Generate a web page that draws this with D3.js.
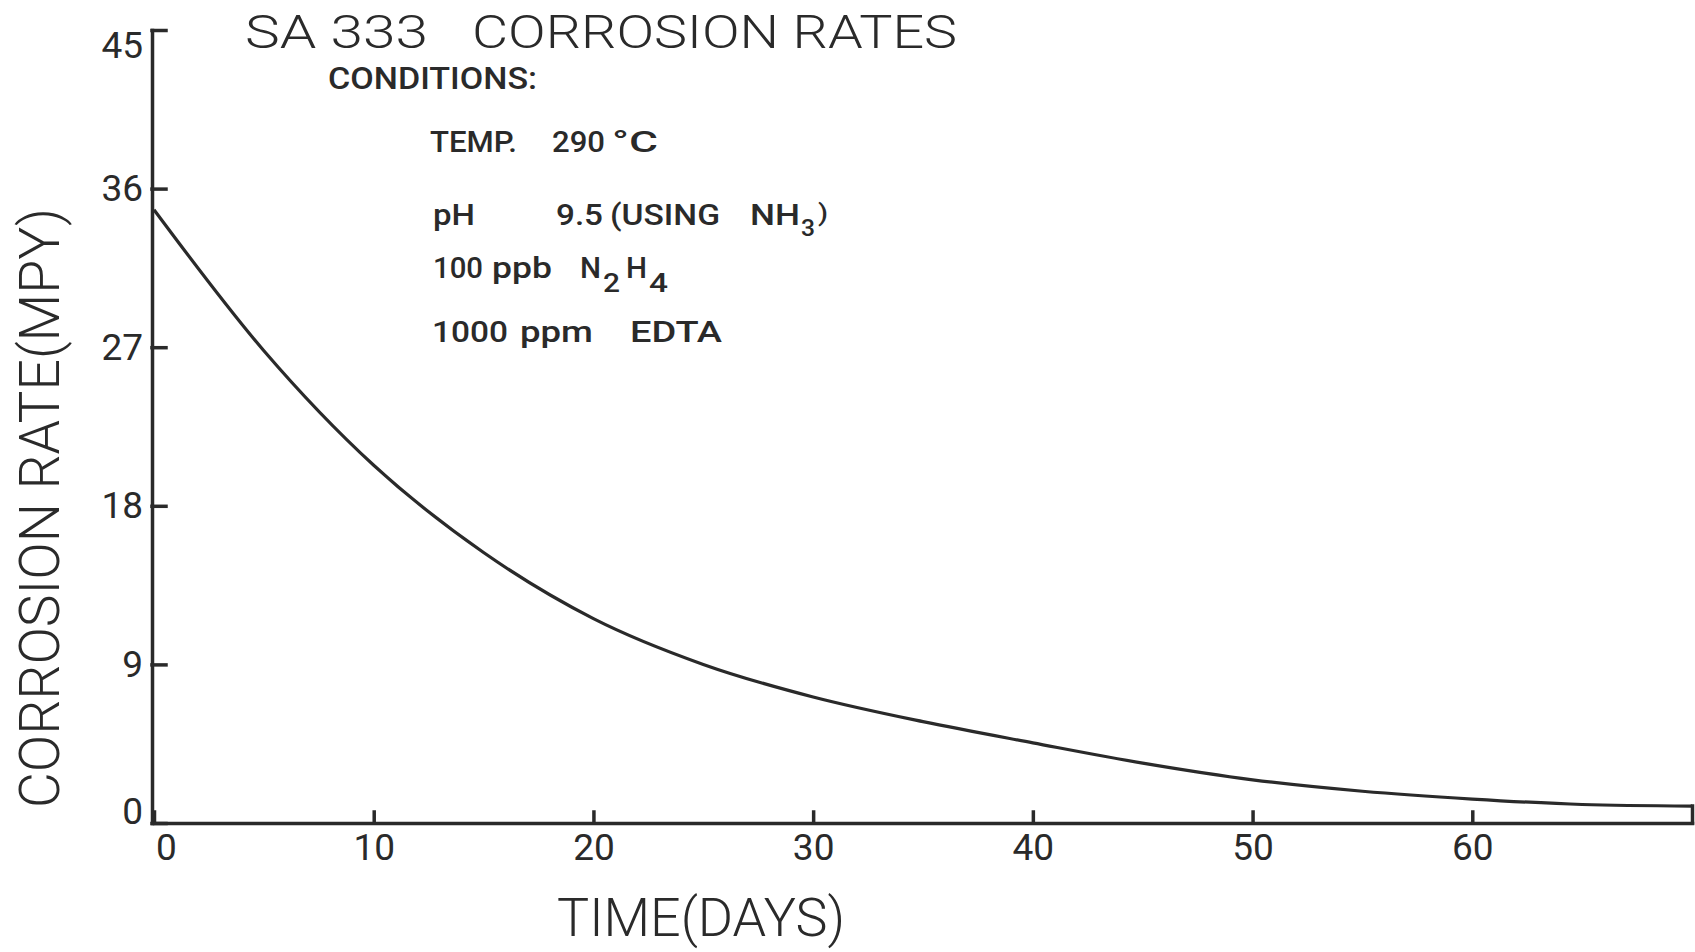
<!DOCTYPE html>
<html>
<head>
<meta charset="utf-8">
<script src="https://cdn.jsdelivr.net/npm/d3@7"></script>
<style>
  body { margin: 0; background: #fff; }
  svg { display: block; }
  .axis path, .axis line { stroke: #2a2a2a; stroke-width: 3.5; stroke-linecap: square; }
  .axis text { fill: #2a2a2a; font-family: Roboto, "DejaVu Sans", sans-serif; font-size: 37px; }
</style>
</head>
<body>
<svg id="chart" width="1695" height="952"></svg>
<script>
// curve (days vs corrosion rate, MPY)
const days  = [0, 5, 10, 15, 20, 25, 30, 35, 40, 45, 50, 55, 60, 65, 70];
const rates = [34.8, 26.8, 20.3, 15.35, 11.6, 9.0, 7.15, 5.75, 4.55, 3.4, 2.45, 1.8, 1.36, 1.05, 0.96];

const xTicks = [0, 10, 20, 30, 40, 50, 60, 70];
const xTickLabels = ['0', '10', '20', '30', '40', '50', '60', ''];
const yTicks = [0, 9, 18, 27, 36, 45];

const titleParts = ['SA 333', 'CORROSION RATES'];
const conditionsHead = 'CONDITIONS:';
const xTitle = 'TIME(DAYS)';
const yTitle = 'CORROSION RATE(MPY)';

const ink = '#2a2a2a';
const svg = d3.select('#chart');

const x = d3.scaleLinear().domain([0, 70]).range([154, 1692]);
const y = d3.scaleLinear().domain([0, 45]).range([823, 30]);

// x axis, ticks pointing up into the plot
const xAxis = svg.append('g')
    .attr('class', 'axis')
    .attr('transform', `translate(0,${y(0)})`)
    .call(d3.axisBottom(x)
        .tickValues(xTicks)
        .tickFormat((d, i) => xTickLabels[i])
        .tickSizeInner(-11)
        .tickSizeOuter(0)
        .tickPadding(11));
xAxis.selectAll('.tick line').attr('y2', d => d === 70 ? -17 : -11);
xAxis.selectAll('.tick text').attr('dx', d => d === 0 ? 12 : 0);

// y axis, ticks pointing right
const yAxis = svg.append('g')
    .attr('class', 'axis')
    .attr('transform', `translate(${x(0) - 2},0)`)
    .call(d3.axisLeft(y)
        .tickValues(yTicks)
        .tickSizeInner(-14)
        .tickSizeOuter(0)
        .tickPadding(9));
yAxis.selectAll('.tick text').attr('dy', d => d === 45 ? '0.75em' : (d === 0 ? '0.0em' : '0.32em'));

// the curve
const line = d3.line()
    .x((d, i) => x(days[i]))
    .y(d => y(d))
    .curve(d3.curveMonotoneX);

svg.append('path')
    .datum(rates)
    .attr('fill', 'none')
    .attr('stroke', ink)
    .attr('stroke-width', 3.2)
    .attr('d', line);

// text helper
function label(str, px, py, size, weight, len) {
    const t = svg.append('text')
        .attr('x', px)
        .attr('y', py)
        .attr('fill', ink)
        .style('font-family', 'Roboto, "DejaVu Sans", sans-serif')
        .style('font-size', size + 'px')
        .style('font-weight', weight)
        .text(str);
    if (len) t.attr('textLength', len).attr('lengthAdjust', 'spacingAndGlyphs');
    return t;
}

// title
label(titleParts[0], 245, 48, 47, 300, 183);
label(titleParts[1], 472, 48, 47, 300, 485);
label(conditionsHead, 328, 89, 32, 500, 209);

// conditions
label('TEMP.', 430, 152, 30, 500, 87);
label('290', 552, 152, 30, 500, 53);
label('°C', 612, 152, 30, 500, 46);

label('pH', 433, 225, 30, 500, 42);
label('9.5', 556, 225, 30, 500, 47);
label('(USING', 610, 225, 30, 500, 110);
label('NH', 750, 225, 30, 500, 50);
label('3', 801, 236, 24, 500, 14);
label(')', 818, 221, 24, 500, 10);

label('100', 433, 278, 30, 500, 50);
label('ppb', 492, 278, 30, 500, 60);
label('N', 580, 278, 30, 500, 21);
label('2', 603, 292, 25, 500, 17);
label('H', 626, 278, 30, 500, 21);
label('4', 649, 292, 25, 500, 19);

label('1000', 432, 342, 30, 500, 76);
label('ppm', 520, 342, 30, 500, 73);
label('EDTA', 630, 342, 30, 500, 92);

// axis titles
label(xTitle, 557, 936, 54, 300, 288);
label(yTitle, 0, 0, 56, 300, 600)
    .attr('transform', 'translate(59,808) rotate(-90)');
</script>
</body>
</html>
